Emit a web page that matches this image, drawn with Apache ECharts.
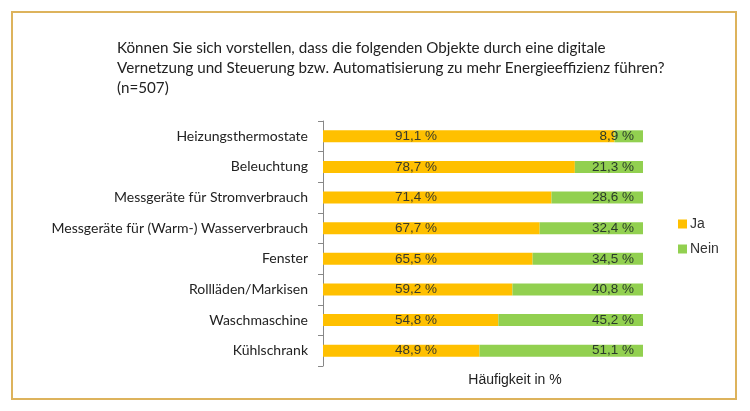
<!DOCTYPE html>
<html>
<head>
<meta charset="utf-8">
<script src="https://cdn.jsdelivr.net/npm/echarts@6/dist/echarts.min.js"></script>
<style>
html,body{margin:0;padding:0;background:#fff;}
#c{width:750px;height:411px;}
</style>
</head>
<body>
<div id="c"></div>
<script>
const categories = ["Heizungsthermostate","Beleuchtung","Messgeräte für Stromverbrauch","Messgeräte für (Warm-) Wasserverbrauch","Fenster","Rollläden/Markisen","Waschmaschine","Kühlschrank"];
const jaValues = [91.1, 78.7, 71.4, 67.7, 65.5, 59.2, 54.8, 48.9];
const neinValues = [8.9, 21.3, 28.6, 32.4, 34.5, 40.8, 45.2, 51.1];
const seriesNames = ["Ja", "Nein"];
const titleText = "Können Sie sich vorstellen, dass die folgenden Objekte durch eine digitale\nVernetzung und Steuerung bzw. Automatisierung zu mehr Energieeffizienz führen?\n(n=507)";
const axisName = "Häufigkeit in %";

const fmt = p => p.value.toFixed(1).replace('.', ',') + ' %';

const chart = echarts.init(document.getElementById('c'));
chart.setOption({
  backgroundColor: '#fff',
  animation: false,
  graphic: [{
    type: 'rect',
    shape: {x: 12, y: 12, width: 724, height: 387},
    style: {fill: 'none', stroke: '#DDB35C', lineWidth: 2}
  }],
  title: {
    text: titleText,
    left: 112, top: 33,
    textStyle: {fontFamily: 'Lato', fontSize: 15.2, fontWeight: 'normal', color: '#222', lineHeight: 20}
  },
  legend: {
    orient: 'vertical', left: 673, top: 212,
    itemWidth: 9, itemHeight: 9, itemGap: 11,
    icon: 'rect',
    textStyle: {fontFamily: 'Liberation Sans', fontSize: 14, color: '#333', padding: [0,0,0,-2]},
    data: seriesNames
  },
  grid: {left: 323, right: 107, top: 121, bottom: 45, containLabel: false},
  xAxis: {
    type: 'value', min: 0, max: 100,
    axisLine: {show: false}, axisTick: {show: false}, axisLabel: {show: false}, splitLine: {show: false},
    name: axisName, nameLocation: 'middle', nameGap: 7,
    nameTextStyle: {fontFamily: 'Liberation Sans', fontSize: 14, color: '#222', padding: [0,0,0,64]}
  },
  yAxis: {
    type: 'category', inverse: true, data: categories,
    axisLine: {show: true, lineStyle: {color: '#888', width: 1}},
    axisTick: {show: true, length: 5, lineStyle: {color: '#888'}},
    axisLabel: {fontFamily: 'Lato', fontSize: 14, color: '#222', margin: 15}
  },
  series: [
    {
      name: seriesNames[0], type: 'bar', stack: 'a', data: jaValues, barWidth: 12,
      itemStyle: {color: '#FFC000'},
      label: {show: true, position: [93, '50%'], align: 'center', verticalAlign: 'middle',
        formatter: fmt, fontFamily: 'Liberation Sans', fontSize: 13.5, color: '#3a3a2a'}
    },
    {
      name: seriesNames[1], type: 'bar', stack: 'a', data: neinValues, barWidth: 12,
      itemStyle: {color: '#92D050'},
      label: {show: true, position: 'insideRight', distance: 9,
        formatter: fmt, fontFamily: 'Liberation Sans', fontSize: 13.5, color: '#2a3a2a'}
    }
  ]
});
</script>
</body>
</html>
